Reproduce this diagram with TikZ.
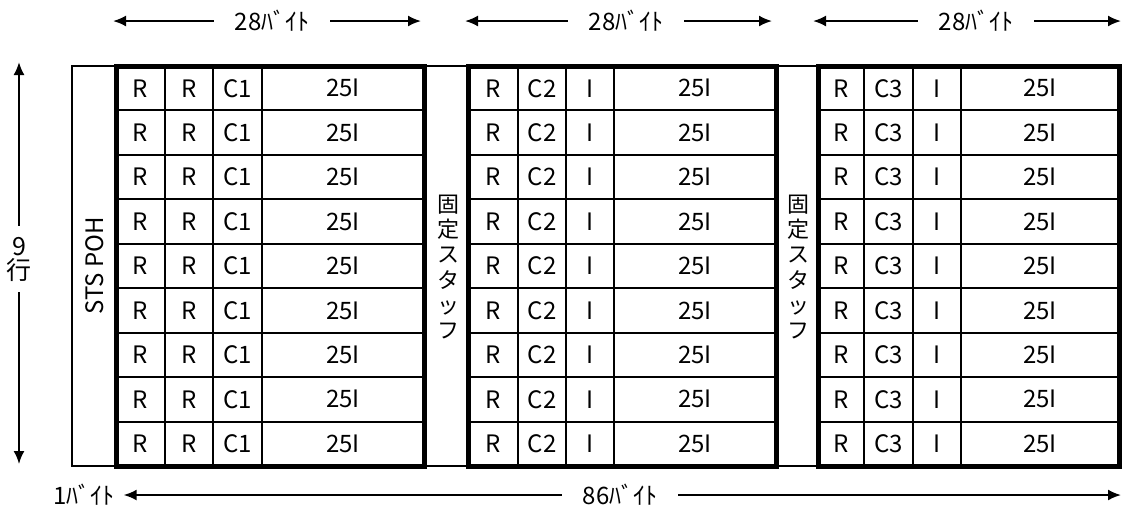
\documentclass[tikz,border=0pt]{standalone}
\usepackage{fontspec}
\setmainfont{Noto Sans CJK JP}
\usetikzlibrary{arrows.meta}

\tikzset{
  txt/.style={inner sep=0pt, font=\fontsize{12}{12}\selectfont},
  stuff/.style={inner sep=0pt, align=center, font=\fontsize{11}{12.6}\selectfont},
  dim/.style={inner ysep=2pt, inner xsep=10pt, font=\fontsize{12}{12}\selectfont},
  frame/.style={line width=2.5pt},
}

\begin{document}
\begin{tikzpicture}[x=0.5pt, y=-0.5pt, >={Latex[length=6.5pt,width=5.5pt]}, line width=1pt]
    \useasboundingbox (0,0) rectangle (1122,511);

    % outer frame and the STS POH column
    \draw (72,66) rectangle (1119,466);
    \node[txt, rotate=90] (poh) at (95,266) {STS POH};

    % the three blocks of 28 bytes
    \foreach \b/\xa/\xb/\xc/\xd/\xe/\ta/\tb/\tc in {
        1/116/165/213/262/424/R/R/C1,
        2/468/518/566/614/776/R/C2/I,
        3/818/864/913/961/1119/R/C3/I} {
      \foreach \r in {1,...,8}
        \draw (\xa,{66+\r*44.44}) -- (\xe,{66+\r*44.44});
      \foreach \x in {\xb,\xc,\xd}
        \draw (\x,66) -- (\x,466);
      \foreach \r in {1,...,9} {
        \node[txt] (b\b r\r a) at ({(\xa+\xb)/2},{66+(\r-0.5)*44.44}) {\ta};
        \node[txt] (b\b r\r b) at ({(\xb+\xc)/2},{66+(\r-0.5)*44.44}) {\tb};
        \node[txt] (b\b r\r c) at ({(\xc+\xd)/2},{66+(\r-0.5)*44.44}) {\tc};
        \node[txt] (b\b r\r d) at ({(\xd+\xe)/2},{66+(\r-0.5)*44.44}) {25I};
      }
      \draw[frame] (\xa,66) rectangle (\xe,466);
    }

    % fixed stuff columns
    \node[stuff] (fs1) at (448,267) {固\\定\\ス\\タ\\ッ\\フ};
    \node[stuff] (fs2) at (798,267) {固\\定\\ス\\タ\\ッ\\フ};

    % byte widths on top
    \foreach \i/\xl/\xm/\xr in {1/113/272/421, 2/465/626/772, 3/813/976/1121} {
      \coordinate (t\i l) at (\xl,21);
      \coordinate (t\i r) at (\xr,21);
      \node[dim] (t\i) at (\xm,21) {28ﾊﾞｲﾄ};
      \draw[->] (t\i) -- (t\i l);
      \draw[->] (t\i) -- (t\i r);
    }

    % 9 rows
    \coordinate (rowtop) at (19,62);
    \coordinate (rowbot) at (19,464);
    \node[txt, align=center, inner ysep=5pt, font=\fontsize{12.5}{12}\selectfont] (rows) at (19,259) {9\\行};
    \draw[->] (rows) -- (rowtop);
    \draw[->] (rows) -- (rowbot);

    % 1 byte + 86 bytes at the bottom
    \coordinate (bend) at (1121,495);
    \node[dim, inner xsep=4pt] (one) at (84,495) {1ﾊﾞｲﾄ};
    \node[dim] (all) at (620,495) {86ﾊﾞｲﾄ};
    \draw[->] (all) -- (one);
    \draw[->] (all) -- (bend);
\end{tikzpicture}
\end{document}
